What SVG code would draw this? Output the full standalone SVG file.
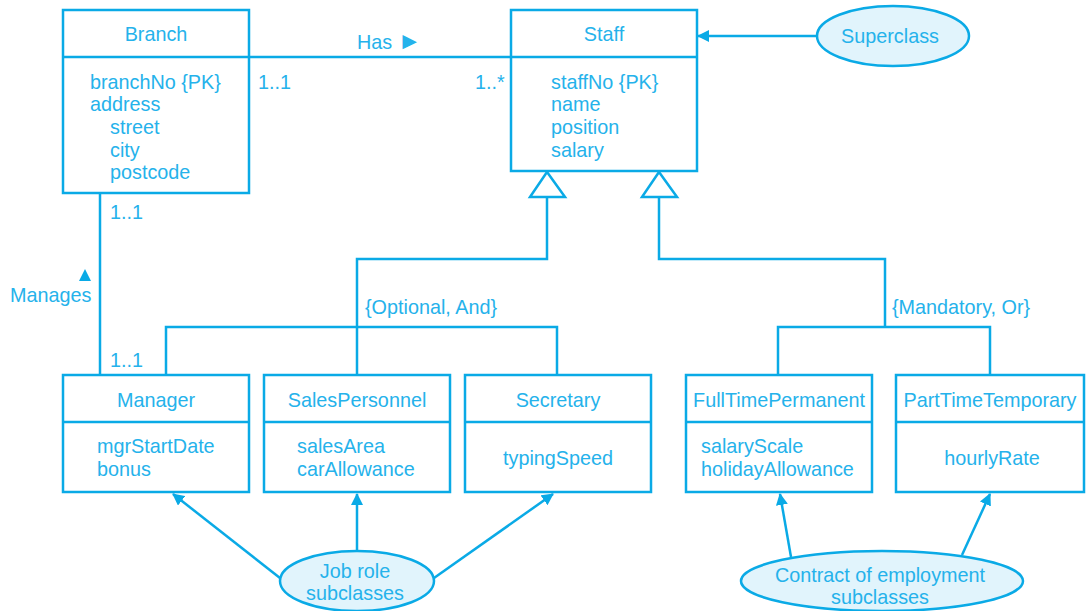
<svg xmlns="http://www.w3.org/2000/svg" width="1088" height="611" viewBox="0 0 1088 611">
<style>
.box{fill:#fff;stroke:#0AAAE6;stroke-width:2.5}
.ln{fill:none;stroke:#0AAAE6;stroke-width:2.5}
.t{font-family:"Liberation Sans",Arial,sans-serif;font-size:19.8px;fill:#25B2EB}
.m{text-anchor:middle}
.ell{fill:#E1F4FC;stroke:#0AAAE6;stroke-width:2.5}
.tri{fill:#fff;stroke:#0AAAE6;stroke-width:2.5}
</style>
<defs>
<marker id="ah" markerWidth="12" markerHeight="12" refX="11" refY="6" orient="auto" markerUnits="userSpaceOnUse">
<path d="M0,0 L12,6 L0,12 Z" fill="#0AAAE6"/>
</marker>
</defs>
<g id="connectors">
<line class="ln" x1="249" y1="57" x2="511" y2="57"/>
<line class="ln" x1="100" y1="193" x2="100" y2="375"/>
<line class="ln" x1="817" y1="36" x2="698" y2="36" marker-end="url(#ah)"/>
<polyline class="ln" points="547,197 547,259 357,259 357,375"/>
<polyline class="ln" points="166,375 166,327 557,327 557,375"/>
<polyline class="ln" points="659,197 659,259 885,259 885,327"/>
<polyline class="ln" points="778,375 778,327 990,327 990,375"/>
<polygon class="tri" points="547,172 530,197 565,197"/>
<polygon class="tri" points="659,172 642,197 677,197"/>
<line class="ln" x1="280" y1="578" x2="173" y2="494" marker-end="url(#ah)"/>
<line class="ln" x1="357" y1="551" x2="357" y2="494" marker-end="url(#ah)"/>
<line class="ln" x1="434" y1="578" x2="553" y2="494" marker-end="url(#ah)"/>
<line class="ln" x1="791" y1="557" x2="780" y2="494" marker-end="url(#ah)"/>
<line class="ln" x1="962" y1="555" x2="990" y2="494" marker-end="url(#ah)"/>
<text class="t" x="357" y="49">Has <tspan style="font-size:24px">►</tspan></text>
<text class="t" x="258" y="89">1..1</text>
<text class="t" x="475" y="89">1..*</text>
<text class="t" x="110" y="219">1..1</text>
<text class="t" x="110" y="367">1..1</text>
<path d="M79,281 L85,269 L91,281 Z" fill="#0AAAE6"/>
<text class="t" x="10" y="302">Manages</text>
<text class="t" x="365" y="314">{Optional, And}</text>
<text class="t" x="892" y="314">{Mandatory, Or}</text>
</g>
<g id="branch">
<rect class="box" x="63" y="10" width="186" height="183"/>
<line class="ln" x1="63" y1="57" x2="249" y2="57"/>
<text class="t m" x="156" y="41">Branch</text>
<text class="t" x="90" y="89">branchNo {PK}</text>
<text class="t" x="90" y="111">address</text>
<text class="t" x="110" y="134">street</text>
<text class="t" x="110" y="157">city</text>
<text class="t" x="110" y="179">postcode</text>
</g>
<g id="staff">
<rect class="box" x="511" y="10" width="186" height="161"/>
<line class="ln" x1="511" y1="57" x2="697" y2="57"/>
<text class="t m" x="604" y="41">Staff</text>
<text class="t" x="551" y="89">staffNo {PK}</text>
<text class="t" x="551" y="111">name</text>
<text class="t" x="551" y="134">position</text>
<text class="t" x="551" y="157">salary</text>
</g>
<g id="superclass">
<ellipse class="ell" cx="893" cy="36" rx="76" ry="30"/>
<text class="t m" x="890" y="43">Superclass</text>
</g>
<g id="manager">
<rect class="box" x="63" y="375" width="186" height="117"/>
<line class="ln" x1="63" y1="422" x2="249" y2="422"/>
<text class="t m" x="156" y="407">Manager</text>
<text class="t" x="97" y="453">mgrStartDate</text>
<text class="t" x="97" y="476">bonus</text>
</g>
<g id="salespersonnel">
<rect class="box" x="264" y="375" width="186" height="117"/>
<line class="ln" x1="264" y1="422" x2="450" y2="422"/>
<text class="t m" x="357" y="407">SalesPersonnel</text>
<text class="t" x="297" y="453">salesArea</text>
<text class="t" x="297" y="476">carAllowance</text>
</g>
<g id="secretary">
<rect class="box" x="465" y="375" width="186" height="117"/>
<line class="ln" x1="465" y1="422" x2="651" y2="422"/>
<text class="t m" x="558" y="407">Secretary</text>
<text class="t m" x="558" y="465">typingSpeed</text>
</g>
<g id="fulltimepermanent">
<rect class="box" x="686" y="375" width="186" height="117"/>
<line class="ln" x1="686" y1="422" x2="872" y2="422"/>
<text class="t m" x="779" y="407">FullTimePermanent</text>
<text class="t" x="701" y="453">salaryScale</text>
<text class="t" x="701" y="476">holidayAllowance</text>
</g>
<g id="parttimetemporary">
<rect class="box" x="896" y="375" width="188" height="117"/>
<line class="ln" x1="896" y1="422" x2="1084" y2="422"/>
<text class="t m" x="990" y="407">PartTimeTemporary</text>
<text class="t m" x="992" y="465">hourlyRate</text>
</g>
<g id="jobrole">
<ellipse class="ell" cx="357" cy="581" rx="77" ry="30"/>
<text class="t m" x="355" y="578">Job role</text>
<text class="t m" x="355" y="600">subclasses</text>
</g>
<g id="contract">
<ellipse class="ell" cx="882" cy="581" rx="141" ry="30"/>
<text class="t m" x="880" y="582">Contract of employment</text>
<text class="t m" x="880" y="604">subclasses</text>
</g>
</svg>
